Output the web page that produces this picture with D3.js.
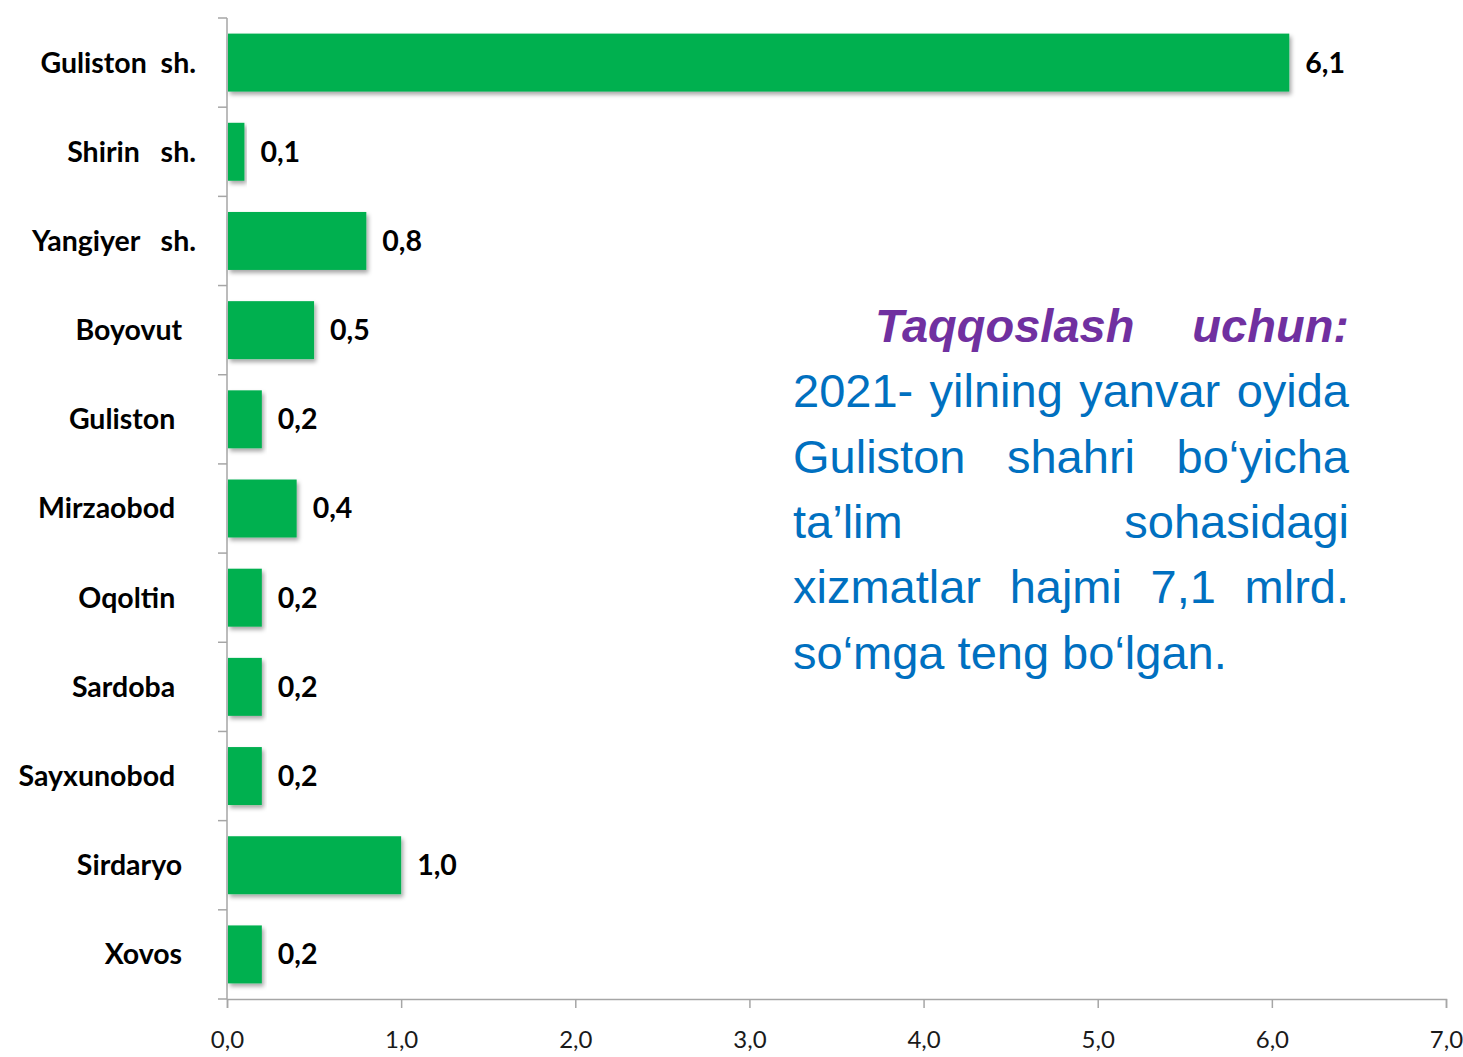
<!DOCTYPE html>
<html>
<head>
<meta charset="utf-8">
<script src="https://cdn.jsdelivr.net/npm/d3@7"></script>
<style>
  body { margin: 0; background: #fff; }
  svg text { font-family: Lato, "Open Sans", sans-serif; }
  .cat text { white-space: pre; }
</style>
</head>
<body>
<div id="chart"></div>
<script>
// data
var categories = ["Guliston  sh.", "Shirin   sh.", "Yangiyer   sh.", "Boyovut  ", "Guliston   ",
  "Mirzaobod   ", "Oqoltin   ", "Sardoba   ", "Sayxunobod   ", "Sirdaryo  ", "Xovos  "];
var values = [6.1, 0.1, 0.8, 0.5, 0.2, 0.4, 0.2, 0.2, 0.2, 1.0, 0.2];
var xTicks = [0, 1, 2, 3, 4, 5, 6, 7];
var noteTitle = ["Taqqoslash", "uchun:"];
var noteLines = [
  ["2021-", "yilning", "yanvar", "oyida"],
  ["Guliston", "shahri", "bo‘yicha"],
  ["ta’lim", "sohasidagi"],
  ["xizmatlar", "hajmi", "7,1", "mlrd."],
  ["so‘mga teng bo‘lgan."]
];

var W = 1463, H = 1057,
  axisColor = "#a6a6a6",
  barColor = "#00b050";

var svg = d3.select("#chart").append("svg")
  .attr("width", W)
  .attr("height", H);

var defs = svg.append("defs");
var shadow = defs.append("filter")
  .attr("id", "shadow")
  .attr("x", "-5%").attr("y", "-20%")
  .attr("width", "120%").attr("height", "150%");
shadow.append("feDropShadow")
  .attr("dx", 2).attr("dy", 3)
  .attr("stdDeviation", 2)
  .attr("flood-color", "#000")
  .attr("flood-opacity", 0.35);

var x = d3.scaleLinear().domain([0, 7]).range([227, 1446]);
var y = d3.scaleBand().domain(categories).range([18, 999])
  .paddingInner(0.35).paddingOuter(0.175);

var fmt = function(v) { return d3.format(".1f")(v).replace(".", ","); };

// x axis
var xAxis = svg.append("g")
  .attr("transform", "translate(0,999)")
  .call(d3.axisBottom(x).tickValues(xTicks).tickFormat(fmt).tickSize(9).tickPadding(23));
xAxis.select(".domain").attr("stroke", axisColor).attr("stroke-width", 1.5);
xAxis.selectAll(".tick line").attr("stroke", axisColor).attr("stroke-width", 1.5);
xAxis.selectAll(".tick text")
  .attr("font-size", 24)
  .attr("fill", "#1a1a1a");

// y axis: line plus ticks at the band boundaries
var yAxisG = svg.append("g").attr("class", "yaxis");
yAxisG.append("line")
  .attr("x1", x(0)).attr("x2", x(0))
  .attr("y1", y.range()[0]).attr("y2", y.range()[1])
  .attr("stroke", axisColor).attr("stroke-width", 1.5);
yAxisG.selectAll(".btick")
  .data(d3.range(categories.length + 1))
  .enter().append("line")
  .attr("class", "btick")
  .attr("x1", x(0) - 9).attr("x2", x(0))
  .attr("y1", function(i) { return y.range()[0] + i * y.step(); })
  .attr("y2", function(i) { return y.range()[0] + i * y.step(); })
  .attr("stroke", axisColor).attr("stroke-width", 1.5);

// category labels
svg.append("g").attr("class", "cat")
  .selectAll("text")
  .data(categories)
  .enter().append("text")
  .attr("x", 196)
  .attr("y", function(d) { return y(d) + y.bandwidth() / 2; })
  .attr("dy", "0.35em")
  .attr("text-anchor", "end")
  .attr("font-size", 28.5)
  .attr("font-weight", "bold")
  .attr("fill", "#000")
  .text(function(d) { return d; });

// bars
svg.append("g")
  .selectAll("rect")
  .data(values)
  .enter().append("rect")
  .attr("x", x(0) + 1)
  .attr("y", function(d, i) { return y(categories[i]); })
  .attr("width", function(d) { return x(d) - x(0) - 1; })
  .attr("height", y.bandwidth())
  .attr("fill", barColor)
  .attr("filter", "url(#shadow)");

// value labels
svg.append("g")
  .selectAll("text")
  .data(values)
  .enter().append("text")
  .attr("x", function(d) { return x(d) + 16; })
  .attr("y", function(d, i) { return y(categories[i]) + y.bandwidth() / 2; })
  .attr("dy", "0.35em")
  .attr("font-size", 28.5)
  .attr("font-weight", "bold")
  .attr("fill", "#000")
  .text(fmt);

// note block, justified between left and right edges
var noteLeft = 793, noteRight = 1349, noteIndent = 82,
  noteTop = 342, lineH = 65.3;
var note = svg.append("g")
  .attr("font-size", 47);

function justify(words, y0, x0, style) {
  var els = words.map(function(w) {
    return note.append("text").attr("y", y0).style("font-family", "'Liberation Sans', Arial, sans-serif")
      .call(style).text(w);
  });
  if (words.length === 1) { els[0].attr("x", x0); return; }
  var widths = els.map(function(e) { return e.node().getComputedTextLength(); });
  var gap = (noteRight - x0 - d3.sum(widths)) / (words.length - 1);
  var cx = x0;
  els.forEach(function(e, i) {
    e.attr("x", cx);
    cx += widths[i] + gap;
  });
}

justify(noteTitle, noteTop, noteLeft + noteIndent, function(t) {
  t.attr("fill", "#7030a0").attr("font-weight", "bold").attr("font-style", "italic");
});
noteLines.forEach(function(words, i) {
  justify(words, noteTop + (i + 1) * lineH, noteLeft, function(t) {
    t.attr("fill", "#0070c0");
  });
});
</script>
</body>
</html>
